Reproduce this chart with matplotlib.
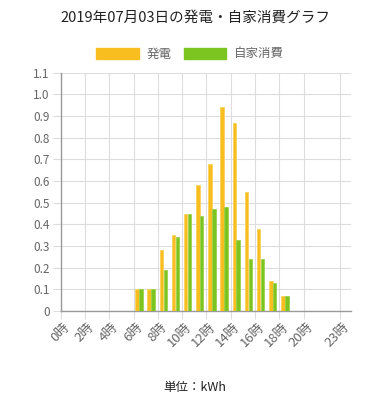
import matplotlib
matplotlib.use("Agg")
import matplotlib.pyplot as plt
import matplotlib.transforms as mtransforms
import numpy as np
from matplotlib.patches import Patch

plt.rcParams["font.family"] = ["Noto Sans CJK JP", "DejaVu Sans"]

hours = list(range(24))
generation = [0, 0, 0, 0, 0, 0, 0.10, 0.10, 0.28, 0.35, 0.45, 0.58,
              0.68, 0.94, 0.87, 0.55, 0.38, 0.14, 0.07, 0, 0, 0, 0, 0]
consumption = [0, 0, 0, 0, 0, 0, 0.10, 0.10, 0.19, 0.34, 0.45, 0.44,
               0.47, 0.48, 0.33, 0.24, 0.24, 0.13, 0.07, 0, 0, 0, 0, 0]
tick_hours = [0, 2, 4, 6, 8, 10, 12, 14, 16, 18, 20, 23]
tick_labels = [f"{h}時" for h in tick_hours]
y_ticks = [round(0.1 * i, 1) for i in range(12)]
y_labels = ["0"] + [f"{v:.1f}" for v in y_ticks[1:]]

orange = "#F8BE1F"
green = "#7CC520"
text_c = "#666666"
grid_c = "#DDDDDD"

fig = plt.figure(figsize=(3.9, 4.0), dpi=100)
ax = fig.add_axes([0.1556, 0.2225, 0.7436, 0.5957])

x = np.array(hours) + 0.45
w = 0.29
ax.bar(x - 0.16, generation, width=w, color=orange, edgecolor="#FBD25E",
       linewidth=0.6, zorder=3)
ax.bar(x + 0.16, consumption, width=w, color=green, edgecolor="#9AD24E",
       linewidth=0.6, zorder=3)

ax.set_xlim(0, 23.87)
ax.set_ylim(0, 1.1)
ax.set_xticks(tick_hours)
ax.set_xticklabels([])
# rotated labels drawn by hand, end of the text a bit right of the tick
shift = mtransforms.ScaledTranslation(7 / 100, -14 / 100, fig.dpi_scale_trans)
for h, lab in zip(tick_hours, tick_labels):
    ax.text(h, 0, lab, transform=ax.get_xaxis_transform() + shift,
            rotation=45, ha="right", va="center", rotation_mode="anchor",
            fontsize=9.5, color=text_c)
ax.set_yticks(y_ticks)
ax.set_yticklabels(y_labels, fontsize=8.5, color=text_c)
ax.grid(True, color=grid_c, linewidth=0.8, zorder=0)
ax.tick_params(axis="both", length=6, color=grid_c, width=0.8, pad=2)

for s in ["top", "right"]:
    ax.spines[s].set_visible(False)
for s in ["left", "bottom"]:
    ax.spines[s].set_color("#9A9A9A")
    ax.spines[s].set_linewidth(1.0)

fig.text(0.5, 0.955, "2019年07月03日の発電・自家消費グラフ", ha="center", va="center",
         fontsize=10.5, color="#222222")

handles = [Patch(color=orange, label="発電"), Patch(color=green, label="自家消費")]
fig.legend(handles=handles, loc="center", bbox_to_anchor=(0.487, 0.865), ncol=2,
           frameon=False, fontsize=9, handlelength=3.4, handleheight=1.0,
           handletextpad=0.6, columnspacing=1.0, labelcolor=text_c)

fig.text(0.5, 0.032, "単位：kWh", ha="center", va="center", fontsize=9, color="#222222")

fig.savefig("out.png", dpi=100)
